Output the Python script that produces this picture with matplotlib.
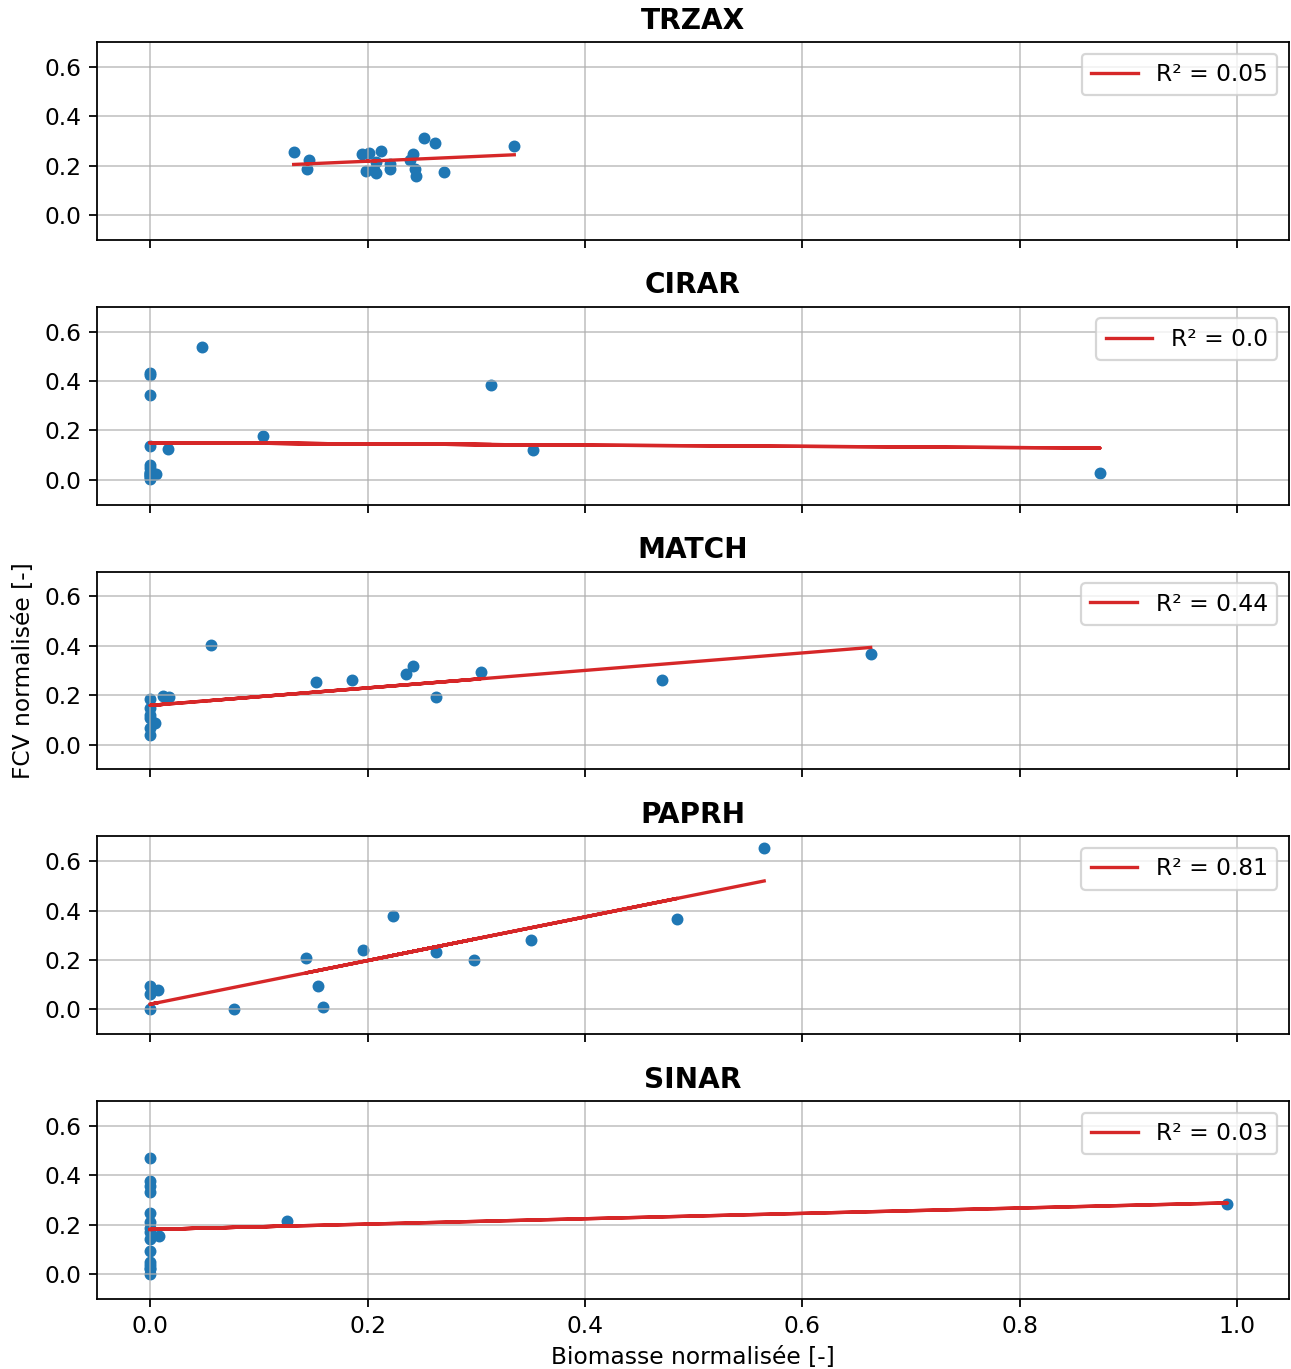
import numpy as np
import matplotlib
matplotlib.use("Agg")
import matplotlib.pyplot as plt

plt.rcParams["font.size"] = 10.5

# espèces et étiquettes R²
species = ["TRZAX", "CIRAR", "MATCH", "PAPRH", "SINAR"]
r2_labels = ["R² = 0.05", "R² = 0.0", "R² = 0.44", "R² = 0.81", "R² = 0.03"]

# biomasse normalisée (x) et FCV normalisée (y) par espèce
trzax_x = [0.132, 0.146, 0.144, 0.195, 0.201, 0.199, 0.208, 0.208, 0.206, 0.212,
           0.221, 0.221, 0.239, 0.242, 0.244, 0.245, 0.252, 0.262, 0.270, 0.335]
trzax_y = [0.255, 0.224, 0.187, 0.246, 0.253, 0.179, 0.214, 0.172, 0.184, 0.258,
           0.208, 0.188, 0.222, 0.246, 0.185, 0.158, 0.310, 0.290, 0.175, 0.278]

cirar_x = [0.0475, 0.0, 0.0, 0.0, 0.314, 0.104, 0.0, 0.016, 0.352, 0.0,
           0.0, 0.0055, 0.0, 0.0, 0.874, 0.0, 0.0, 0.0, 0.0, 0.0]
cirar_y = [0.537, 0.433, 0.423, 0.345, 0.382, 0.177, 0.137, 0.126, 0.121, 0.060,
           0.047, 0.023, 0.027, 0.003, 0.028, 0.010, 0.015, 0.020, 0.025, 0.030]

match_x = [0.056, 0.153, 0.186, 0.235, 0.242, 0.304, 0.263, 0.0, 0.012, 0.017,
           0.0, 0.0, 0.0, 0.004, 0.0, 0.0, 0.471, 0.663]
match_y = [0.402, 0.255, 0.261, 0.286, 0.320, 0.293, 0.192, 0.185, 0.198, 0.191,
           0.148, 0.121, 0.108, 0.087, 0.067, 0.038, 0.262, 0.367]

paprh_x = [0.565, 0.223, 0.485, 0.350, 0.196, 0.263, 0.143, 0.298, 0.154, 0.159,
           0.077, 0.0, 0.0, 0.007, 0.0]
paprh_y = [0.653, 0.379, 0.364, 0.282, 0.241, 0.231, 0.210, 0.201, 0.094, 0.009,
           0.000, 0.093, 0.061, 0.078, 0.0]

sinar_x = [0.0, 0.0, 0.0, 0.0, 0.0, 0.0, 0.0, 0.0, 0.008, 0.126,
           0.0, 0.0, 0.0, 0.0, 0.0, 0.991, 0.0, 0.0]
sinar_y = [0.472, 0.379, 0.358, 0.332, 0.248, 0.213, 0.188, 0.144, 0.154, 0.216,
           0.093, 0.050, 0.036, 0.0, 0.170, 0.286, 0.020, 0.025]

xs = [trzax_x, cirar_x, match_x, paprh_x, sinar_x]
ys = [trzax_y, cirar_y, match_y, paprh_y, sinar_y]

fig, axes = plt.subplots(5, 1, figsize=(1291 / 160, 1369 / 160), dpi=160, sharex=True)
fig.subplots_adjust(left=97 / 1291, right=1289 / 1291,
                    top=1 - 42 / 1369, bottom=1 - 1299 / 1369, hspace=67 / 198)

for ax, name, x, y, lab in zip(axes, species, xs, ys, r2_labels):
    x = np.array(x)
    y = np.array(y)
    ax.scatter(x, y, s=19, color="tab:blue")
    # régression linéaire
    a, b = np.polyfit(x, y, 1)
    ax.plot(x, a * x + b, color="tab:red", lw=1.5, label=lab)
    ax.set_title(name, fontweight="bold")
    ax.set_ylim(-0.1, 0.7)
    ax.set_yticks([0.0, 0.2, 0.4, 0.6])
    ax.grid(True, alpha=0.7)
    ax.legend(loc="upper right")

axes[-1].set_xlim(-0.049, 1.048)
axes[-1].set_xticks([0.0, 0.2, 0.4, 0.6, 0.8, 1.0])
axes[-1].set_xlabel("Biomasse normalisée [-]")
axes[2].set_ylabel("FCV normalisée [-]")

fig.savefig("out.png", dpi=160)
